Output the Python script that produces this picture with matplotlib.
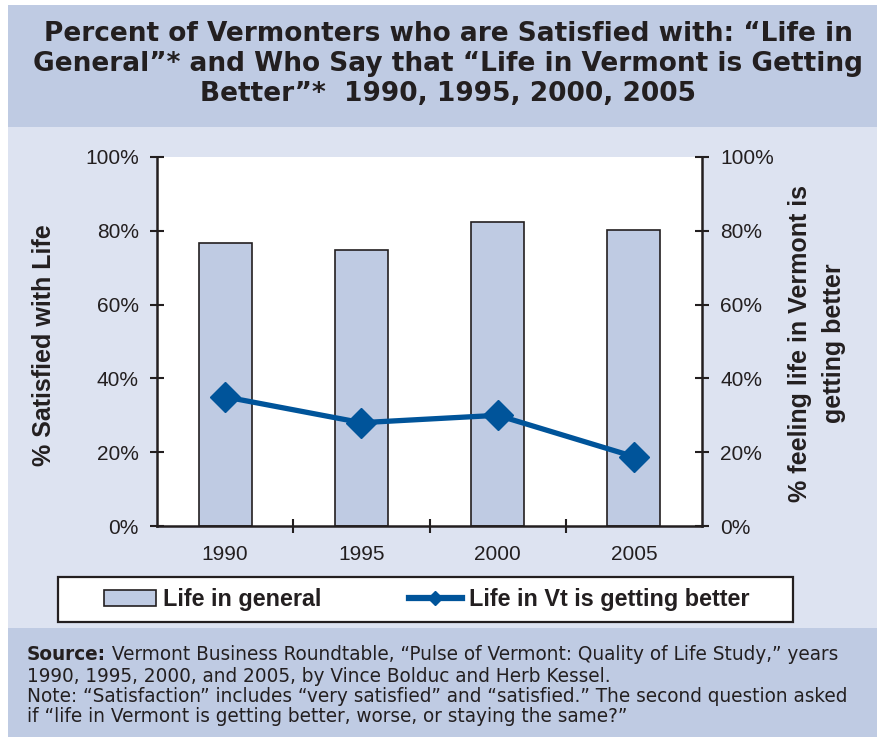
import matplotlib
matplotlib.use("Agg")
import matplotlib.pyplot as plt
from matplotlib.patches import Rectangle
from matplotlib.lines import Line2D
from matplotlib.ticker import PercentFormatter

# data
years = ["1990", "1995", "2000", "2005"]
life_general = [76.8, 74.8, 82.3, 80.1]
vt_better = [35.0, 28.0, 30.0, 18.8]

bar_col = "#bfcbe3"
line_col = "#00549a"
dark = "#231f20"
band_col = "#bfcbe3"
mid_col = "#dde3f1"

W, H = 877, 737
fig = plt.figure(figsize=(W / 100, H / 100), dpi=100)

def px(x0, y0, x1, y1):
    # pixel box (from top-left) -> figure fraction rect
    return (x0 / W, 1 - y1 / H, (x1 - x0) / W, (y1 - y0) / H)

# background bands
for (x0, y0, x1, y1), c in [((8, 5, 877, 127), band_col),
                            ((8, 127, 877, 628), mid_col),
                            ((8, 628, 877, 737), band_col)]:
    l, b, w, h = px(x0, y0, x1, y1)
    fig.patches.append(Rectangle((l, b), w, h, transform=fig.transFigure,
                                 facecolor=c, edgecolor="none", zorder=-10))

fig.text(448 / W, 1 - 64 / H,
         "Percent of Vermonters who are Satisfied with: \u201cLife in\n"
         "General\u201d* and Who Say that \u201cLife in Vermont is Getting\n"
         "Better\u201d*  1990, 1995, 2000, 2005",
         ha="center", va="center", fontsize=19, fontweight="bold",
         color=dark, family="DejaVu Sans", linespacing=1.22)

ax = fig.add_axes(px(157, 157, 702, 526))
ax.set_facecolor("white")
x = list(range(len(years)))
ax.bar(x, life_general, width=0.39, color=bar_col, edgecolor=dark, linewidth=1.2,
       zorder=2)
ax.set_xlim(-0.5, len(years) - 0.5)
ax.set_ylim(0, 100)
ax.set_yticks([0, 20, 40, 60, 80, 100])
ax.yaxis.set_major_formatter(PercentFormatter(decimals=0))
ax.set_xticks([i + 0.5 for i in x[:-1]], minor=False)
ax.set_xticklabels([])
ax.set_xticks(x, minor=True)
ax.set_xticklabels(years, minor=True)
ax.tick_params(axis="x", which="minor", length=0, pad=14)
ax.tick_params(axis="x", which="major", direction="inout", length=10, width=1.5, color=dark)
ax.tick_params(axis="y", direction="inout", length=10, width=1.5, color=dark, pad=8)
ax.tick_params(which="both", labelsize=15, labelcolor=dark)
for lab in ax.get_xticklabels(minor=True) + ax.get_yticklabels():
    lab.set_family("Liberation Sans")
for s in ["top", "right"]:
    ax.spines[s].set_visible(False)
for s in ["left", "bottom"]:
    ax.spines[s].set_linewidth(1.8)
    ax.spines[s].set_color(dark)
ax.set_ylabel("% Satisfied with Life", fontsize=18, fontweight="bold",
              family="Liberation Sans", color=dark)
ax.yaxis.set_label_coords(-0.186, 0.49)

ax2 = ax.twinx()
ax2.plot(x, vt_better, color=line_col, linewidth=3.8, marker="D",
         markersize=15, zorder=3)
ax2.set_ylim(0, 100)
ax2.set_yticks([0, 20, 40, 60, 80, 100])
ax2.yaxis.set_major_formatter(PercentFormatter(decimals=0))
ax2.tick_params(axis="y", direction="inout", length=10, width=1.5, color=dark,
                labelsize=15, labelcolor=dark, pad=8)
for lab in ax2.get_yticklabels():
    lab.set_family("Liberation Sans")
for s in ["top", "left", "bottom"]:
    ax2.spines[s].set_visible(False)
ax2.spines["right"].set_linewidth(1.8)
ax2.spines["right"].set_color(dark)
fig.text(817 / W, 1 - 343 / H, "% feeling life in Vermont is\ngetting better",
         rotation=90, ha="center", va="center", fontsize=18, fontweight="bold",
         family="Liberation Sans", color=dark, linespacing=1.5)

# legend: frame drawn separately, entries centred in it
l, b, w, h = px(58, 577, 793, 622)
fig.patches.append(Rectangle((l, b), w, h, transform=fig.transFigure,
                             facecolor="white", edgecolor=dark, linewidth=1.6,
                             zorder=5))
handles = [Rectangle((0, 0), 1, 1, facecolor=bar_col, edgecolor=dark, linewidth=1.2),
           Line2D([], [], color=line_col, linewidth=4.5, marker="D", markersize=7)]
leg = fig.legend(handles, ["Life in general", "Life in Vt is getting better"],
                 loc="center", bbox_to_anchor=(l + w / 2 + 1 / W, b + h / 2), ncol=2,
                 frameon=False, handlelength=2.25, handleheight=0.7,
                 handletextpad=0.3, columnspacing=3.75, borderpad=0.3,
                 prop={"family": "Liberation Sans", "weight": "bold", "size": 16.8})
leg.set_zorder(6)
for t in leg.get_texts():
    t.set_color(dark)

# source note, one line at a time
src_y = [655, 677, 697, 717]
src_lines = [" Vermont Business Roundtable, \u201cPulse of Vermont: Quality of Life Study,\u201d years",
             "1990, 1995, 2000, and 2005, by Vince Bolduc and Herb Kessel.",
             "Note: \u201cSatisfaction\u201d includes \u201cvery satisfied\u201d and \u201csatisfied.\u201d The second question asked",
             "if \u201clife in Vermont is getting better, worse, or staying the same?\u201d"]
fs = 13.35
bold = fig.text(27 / W, 1 - src_y[0] / H, "Source:", ha="left", va="center",
                fontsize=fs, fontweight="bold", color=dark, family="DejaVu Sans")
fig.canvas.draw()
bb = bold.get_window_extent().transformed(fig.transFigure.inverted())
fig.text(bb.x1, 1 - src_y[0] / H, src_lines[0], ha="left", va="center",
         fontsize=fs, color=dark, family="DejaVu Sans")
for yy, line in zip(src_y[1:], src_lines[1:]):
    fig.text(27 / W, 1 - yy / H, line, ha="left", va="center",
             fontsize=fs, color=dark, family="DejaVu Sans")

fig.savefig("out.png", dpi=100)
